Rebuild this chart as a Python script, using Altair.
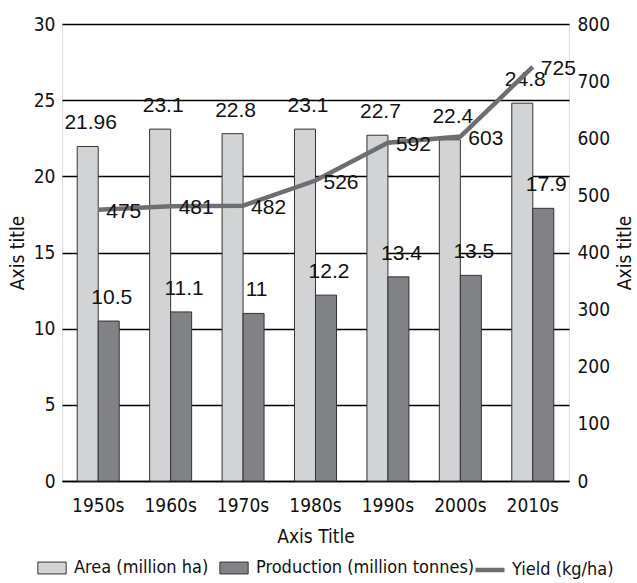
import altair as alt
import pandas as pd

decades = ["1950s", "1960s", "1970s", "1980s", "1990s", "2000s", "2010s"]
area = [21.96, 23.1, 22.8, 23.1, 22.7, 22.4, 24.8]
production = [10.5, 11.1, 11, 12.2, 13.4, 13.5, 17.9]
yield_kg = [475, 481, 482, 526, 592, 603, 725]

area_name = "Area (million ha)"
prod_name = "Production (million tonnes)"
yield_name = "Yield (kg/ha)"

bars = pd.DataFrame({
    "decade": decades * 2,
    "series": [area_name] * len(decades) + [prod_name] * len(decades),
    "value": area + production,
})
bars["label"] = [f"{v:g}" for v in bars["value"]]

line_df = pd.DataFrame({"decade": decades, "series": yield_name, "yield": yield_kg})
line_df["label"] = [str(v) for v in yield_kg]

FONT = "DejaVu Sans Condensed, Roboto, sans-serif"
LFONT = "Liberation Sans"

x_enc = alt.X("decade:N", sort=decades, title="Axis Title",
              scale=alt.Scale(paddingInner=0.42, paddingOuter=0.21),
              axis=alt.Axis(labelAngle=0, domain=True, domainColor="black", domainWidth=1.5,
                            domainOpacity=1, grid=False,
                            ticks=False, labelPadding=15, titlePadding=12,
                            labelFont=FONT, labelFontSize=19, titleFont=FONT, titleFontSize=19,
                            titleFontWeight="normal", labelColor="#111", titleColor="#111"))
x_off = alt.XOffset("series:N", sort=[area_name, prod_name], scale=alt.Scale(paddingInner=0))

y_left = alt.Y("value:Q", title="Axis title",
               scale=alt.Scale(domain=[0, 30]),
               axis=alt.Axis(values=[0, 5, 10, 15, 20, 25, 30], grid=True, gridColor="black",
                             gridWidth=1.5, gridOpacity=1, domain=False, domainOpacity=0,
                             domainWidth=0, ticks=False, labelPadding=7,
                             labelFont=FONT, labelFontSize=19, titleFont=FONT, titleFontSize=19,
                             titleFontWeight="normal", titlePadding=6, labelColor="#111", titleColor="#111"))

bar_layer = alt.Chart(bars).mark_bar(stroke="#333333", strokeWidth=1).encode(
    x=x_enc, xOffset=x_off, y=y_left,
    fill=alt.Fill("series:N", sort=[area_name, prod_name],
                  scale=alt.Scale(domain=[area_name, prod_name], range=["#d1d3d4", "#808285"]),
                  legend=alt.Legend(title=None, orient="none", legendX=-25, legendY=529,
                                    direction="horizontal",
                                    symbolType="M-1,-0.42H1V0.42H-1Z", symbolSize=800,
                                    symbolStrokeColor="#333333", symbolStrokeWidth=1,
                                    labelFont=FONT, labelFontSize=18, labelColor="#111",
                                    labelLimit=400, columnPadding=8, labelOffset=7, symbolOpacity=1)),
)

bar_text = alt.Chart(bars).mark_text(font=LFONT, fontSize=21, baseline="alphabetic", dy=-17, dx=3,
                                     color="#111").encode(
    x=x_enc, xOffset=x_off, y=y_left, text="label:N")

bars_all = alt.layer(bar_layer, bar_text)

y_right = alt.Y("yield:Q", title="Axis title", scale=alt.Scale(domain=[0, 800]),
                axis=alt.Axis(orient="right", values=list(range(0, 801, 100)), grid=False,
                              domain=False, domainOpacity=0, domainWidth=0, ticks=False, labelPadding=8,
                              labelFont=FONT, labelFontSize=19, titleFont=FONT, titleFontSize=19,
                              titleFontWeight="normal", titleAngle=270, titleBaseline="top",
                              titlePadding=6, labelColor="#111", titleColor="#111"))

line_layer = alt.Chart(line_df).mark_line(strokeWidth=4.5).encode(
    x=x_enc, y=y_right,
    stroke=alt.Stroke("series:N", scale=alt.Scale(domain=[yield_name], range=["#6d6e71"]),
                      legend=alt.Legend(title=None, orient="none", legendX=411, legendY=529,
                                        symbolType="stroke",
                                        symbolSize=841, symbolStrokeWidth=4.5,
                                        labelFont=FONT, labelFontSize=18, labelColor="#111",
                                        labelLimit=400, labelOffset=5)),
)
line_text = alt.Chart(line_df).mark_text(font=LFONT, fontSize=21, align="left", baseline="middle",
                                         dx=8, dy=2, color="#111").encode(
    x=x_enc, y=y_right, text="label:N")
line_all = alt.layer(line_layer, line_text)

chart = alt.layer(bars_all, line_all).resolve_scale(y="independent").properties(
    width=507, height=457, padding={"left": 8, "right": 1, "top": 15, "bottom": 4}
).configure_view(strokeWidth=0, strokeOpacity=0, stroke="transparent").configure_axisY(
    domain=False, domainOpacity=0, ticks=False
).configure_axisX(grid=False).configure(background="white")

chart.save("out.html", embed_options={"renderer": "svg", "actions": False})
